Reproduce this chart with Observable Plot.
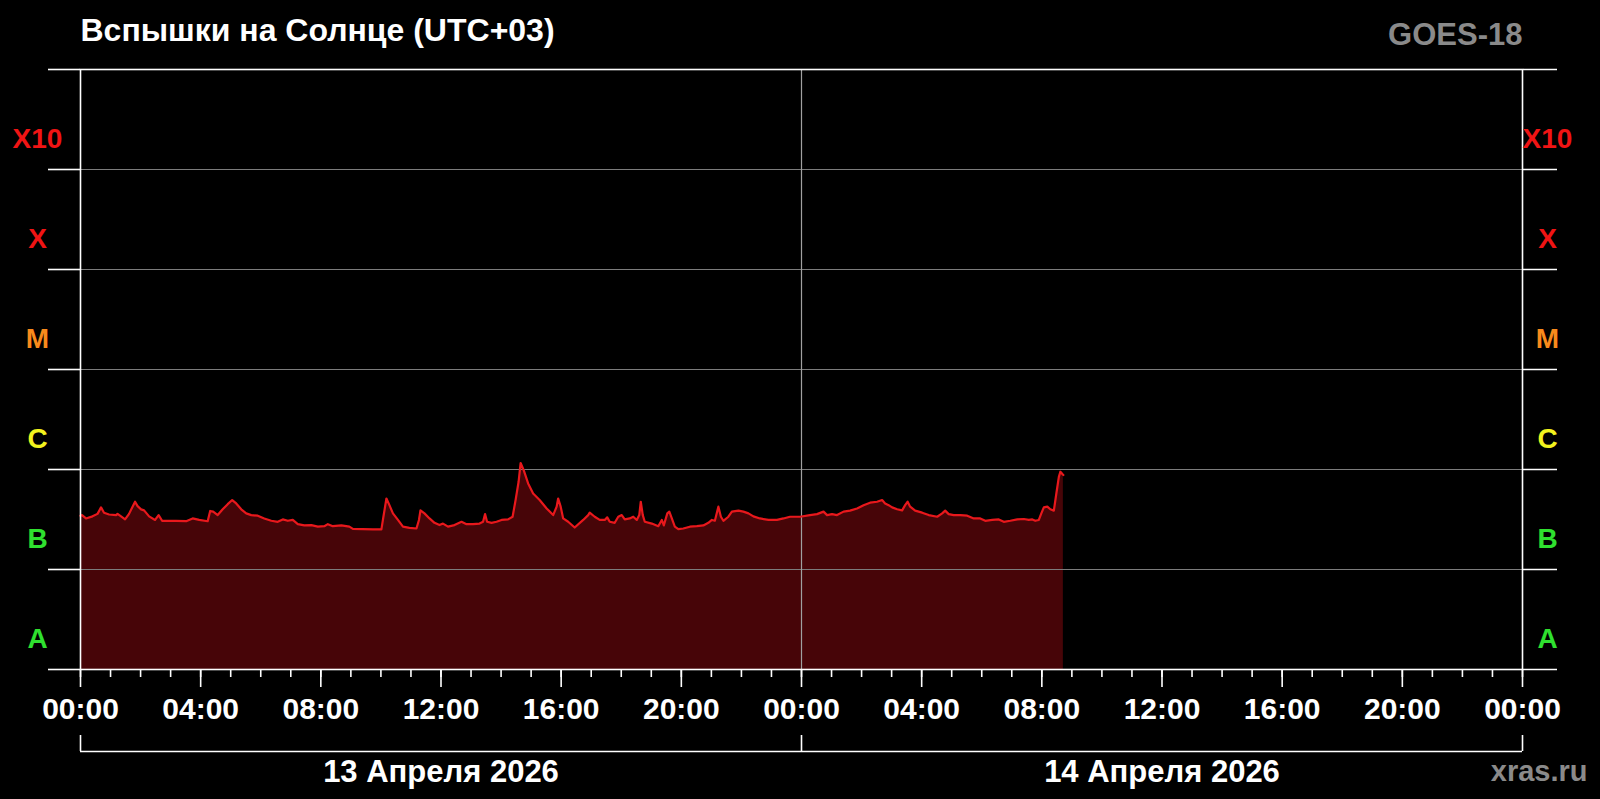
<!DOCTYPE html>
<html>
<head>
<meta charset="utf-8">
<script src="https://cdn.jsdelivr.net/npm/d3@7"></script>
<script src="https://cdn.jsdelivr.net/npm/@observablehq/plot@0.6"></script>
<style>
  html, body { margin: 0; padding: 0; background: #000; overflow: hidden; }
</style>
</head>
<body>
<div id="chart"></div>
<script>
// ---- Data ----
const titleText = "Вспышки на Солнце (UTC+03)";
const satelliteText = "GOES-18";
const siteText = "xras.ru";
const dayLabels = ["13 Апреля 2026", "14 Апреля 2026"];

// Flare classes: name, lower flux bound (W/m²), label colour
const classNames = ["A", "B", "C", "M", "X", "X10"];
const classLower = [1e-8, 1e-7, 1e-6, 1e-5, 1e-4, 1e-3];
const classColors = ["#2fe02f", "#2fe02f", "#f2f21e", "#f88a1c", "#f01414", "#f01414"];

// Minutes since 13 April 2026 00:00 (UTC+03)
const minutes = [0,3,11,24,34,41,47,57,71,74,81,89,97,104,109,114,121,127,137,149,156,163,171,191,211,224,237,254,259,265,274,284,294,303,311,321,331,341,354,367,381,394,404,414,424,434,447,461,474,487,494,504,521,537,544,564,584,601,605,611,617,624,634,644,657,671,676,679,687,697,707,717,724,734,747,761,771,784,797,804,808,812,821,831,841,854,863,869,875,879,885,894,904,917,931,944,951,954,959,964,974,987,1004,1014,1017,1027,1037,1047,1052,1057,1067,1074,1081,1087,1097,1104,1111,1116,1119,1123,1127,1141,1154,1161,1165,1172,1176,1181,1187,1194,1204,1217,1231,1244,1254,1261,1267,1274,1279,1284,1294,1301,1314,1324,1334,1344,1357,1374,1391,1404,1417,1437,1457,1471,1484,1491,1501,1511,1524,1537,1551,1564,1577,1591,1601,1607,1614,1621,1631,1641,1647,1652,1657,1667,1681,1694,1711,1721,1727,1734,1744,1757,1771,1784,1797,1807,1821,1834,1844,1857,1871,1884,1894,1901,1907,1914,1919,1924,1931,1937,1944,1949,1954,1957,1961,1963];
// X-ray flux in units of 1e-7 W/m² (B-class level)
const bLevel = [3.45,3.5,3.24,3.4,3.6,4.18,3.7,3.55,3.5,3.6,3.4,3.17,3.6,4.25,4.76,4.3,3.99,3.9,3.4,3.13,3.5,3.07,3.07,3.07,3.04,3.24,3.13,3.04,3.85,3.79,3.5,4.0,4.5,4.95,4.58,4.0,3.64,3.5,3.45,3.24,3.07,3.0,3.17,3.07,3.13,2.84,2.76,2.78,2.68,2.71,2.84,2.71,2.76,2.68,2.55,2.53,2.52,2.52,3.37,5.13,4.4,3.64,3.13,2.68,2.61,2.57,3.13,3.9,3.64,3.24,2.93,2.78,2.88,2.68,2.78,3.0,2.84,2.84,2.88,3.0,3.58,3.0,2.93,3.0,3.13,3.17,3.37,4.95,7.54,11.6,9.9,7.26,5.75,4.95,4.08,3.5,4.25,5.13,4.25,3.24,3.0,2.63,3.13,3.5,3.7,3.37,3.13,3.13,3.32,3.0,2.93,3.37,3.5,3.17,3.24,3.37,3.13,3.5,4.76,3.5,3.0,2.88,2.71,3.13,2.76,3.64,3.79,3.24,2.68,2.53,2.57,2.68,2.71,2.76,2.93,3.13,3.07,4.25,3.37,3.07,3.37,3.79,3.88,3.79,3.64,3.4,3.24,3.13,3.13,3.24,3.37,3.37,3.5,3.58,3.79,3.5,3.58,3.5,3.79,3.88,4.08,4.4,4.66,4.76,4.95,4.58,4.4,4.18,4.0,3.9,4.4,4.76,4.25,3.88,3.7,3.5,3.37,3.64,3.88,3.58,3.5,3.5,3.45,3.24,3.24,3.07,3.13,3.17,3.0,3.07,3.17,3.2,3.13,3.17,3.07,3.13,3.64,4.18,4.25,4.0,3.88,5.75,8.45,9.5,9.0,8.8];

// ---- Build table ----
const start = Date.UTC(2026, 3, 13);
const HOUR = 3600e3;
const series = minutes.map((m, i) => ({ t: new Date(start + m * 60e3), f: bLevel[i] * 1e-7 }));
const classes = classNames.map((n, i) => ({ name: n, pos: classLower[i] * 2, color: classColors[i] }));
const gridAll = classLower.concat([1e-2]);
const gridInner = classLower.slice(1);
const hourTicks = d3.range(0, 49).map(h => new Date(start + h * HOUR));
const majorTicks = d3.range(0, 49, 4).map(h => new Date(start + h * HOUR));
const dayBounds = [0, 24, 48].map(h => new Date(start + h * HOUR));
const dayNoons = [12, 36].map(h => new Date(start + h * HOUR));
const midnight = [new Date(start + 24 * HOUR)];
const fmt = d3.utcFormat("%H:%M");
const font = "'Liberation Sans', Arial, Helvetica, sans-serif";

const chart = Plot.plot({
  width: 1600,
  height: 799,
  marginLeft: 80,
  marginRight: 78,
  marginTop: 69,
  marginBottom: 130,
  x: { type: "utc", domain: [dayBounds[0], dayBounds[2]], label: null },
  y: { type: "log", domain: [1e-8, 1e-2], label: null },
  color: { type: "identity" },
  style: { background: "#000", color: "#fff", fontFamily: font, fontWeight: "bold", overflow: "visible" },
  marks: [
    Plot.areaY(series, { x: "t", y1: 1e-8, y2: "f", fill: "#470508" }),
    Plot.ruleY(gridInner, { stroke: "#7c7c7c", strokeWidth: 1.2 }),
    Plot.ruleX(midnight, { stroke: "#a0a0a0", strokeWidth: 1.2 }),
    Plot.lineY(series, { x: "t", y: "f", stroke: "#e8181c", strokeWidth: 2.2 }),
    Plot.frame({ stroke: "#fff", strokeWidth: 1.6 }),
    // y tick stubs
    Plot.axisY({ anchor: "left", ticks: gridAll, tickSize: 32, tickFormat: () => "", label: null, strokeWidth: 1.6 }),
    Plot.axisY({ anchor: "right", ticks: gridAll, tickSize: 34, tickFormat: () => "", label: null, strokeWidth: 1.6 }),
    // class labels
    Plot.text(classes, { y: "pos", text: "name", fill: "color", frameAnchor: "left", dx: -43, textAnchor: "middle", fontSize: 28 }),
    Plot.text(classes, { y: "pos", text: "name", fill: "color", frameAnchor: "right", dx: 25, textAnchor: "middle", fontSize: 28 }),
    // x ticks
    Plot.axisX({ ticks: hourTicks, tickSize: 8, tickFormat: () => "", label: null, strokeWidth: 1.6 }),
    Plot.axisX({ ticks: majorTicks, tickSize: 18, tickPadding: 10, tickFormat: fmt, label: null, fontSize: 30, strokeWidth: 1.6 }),
    // date bracket
    Plot.ruleY([1e-8], { stroke: "#fff", strokeWidth: 1.6, dy: 82 }),
    Plot.tickX(dayBounds, { x: d => d, stroke: "#fff", strokeWidth: 1.6, insetTop: 584, dy: 82 }),
    Plot.text(dayNoons, { x: d => d, text: (d, i) => dayLabels[i], frameAnchor: "bottom", lineAnchor: "middle", dy: 103, fontSize: 31, fill: "#fff" }),
    // title & credits
    Plot.text([titleText], { frameAnchor: "top-left", lineAnchor: "middle", textAnchor: "start", dy: -39, fontSize: 32, fill: "#fff" }),
    Plot.text([satelliteText], { frameAnchor: "top-right", lineAnchor: "middle", textAnchor: "end", dy: -34, fontSize: 31, fill: "#8a8a8a" }),
    Plot.text([siteText], { frameAnchor: "bottom-right", lineAnchor: "middle", textAnchor: "end", dx: 65, dy: 102, fontSize: 29, fill: "#8a8a8a" })
  ]
});
document.getElementById("chart").appendChild(chart);
</script>
</body>
</html>
